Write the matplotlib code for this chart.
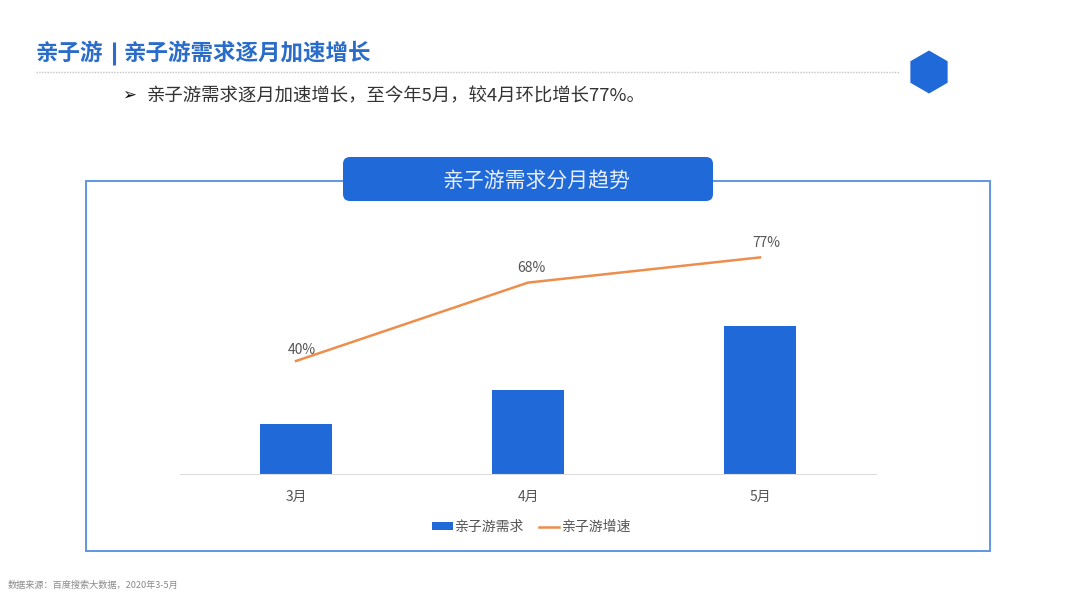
import matplotlib.pyplot as plt
from matplotlib.patches import FancyBboxPatch, Rectangle, RegularPolygon

plt.rcParams['font.family'] = ['Noto Sans CJK SC', 'DejaVu Sans']

months = ['3月', '4月', '5月']
demand = [50, 84, 148]  # no axis in the source, read as relative heights
growth = [40, 68, 77]
growth_labels = ['40%', '68%', '77%']

BLUE = '#2069d8'
ORANGE = '#ed8e4c'
W, H = 1080, 607

fig = plt.figure(figsize=(W / 100, H / 100), dpi=100)

# overlay in pixel coords for the slide decoration
bg = fig.add_axes([0, 0, 1, 1])
bg.set_xlim(0, W)
bg.set_ylim(H, 0)
bg.axis('off')

# title in three pieces, the bar needs to be heavier than the font's own
bg.text(36, 53, '亲子游', fontsize=16.2, fontweight='bold', color='#2a6cc9', va='center', ha='left')
bg.plot([114, 114], [42, 65], color='#2a6cc9', lw=2.2, solid_capstyle='butt')
bg.text(124, 53, '亲子游需求逐月加速增长', fontsize=16.2, fontweight='bold', color='#2a6cc9',
        va='center', ha='left')
bg.plot([36, 899], [72, 72], color='#c4c4c4', lw=1, ls=(0, (1, 1)))
bg.add_patch(RegularPolygon((929, 72), 6, radius=21.5, color=BLUE, lw=0))
bg.text(122, 95.5, '➢', fontsize=12, color='#111111', va='center', ha='left')
bg.text(147, 96.5, '亲子游需求逐月加速增长，至今年5月，较4月环比增长77%。', fontsize=13.25,
        color='#333333', va='center', ha='left')

bg.add_patch(Rectangle((85.5, 181), 904, 370, fill=False, ec='#5f97e3', lw=1.4))
bg.add_patch(FancyBboxPatch((343, 157), 370, 44, boxstyle='round,pad=0,rounding_size=7',
                            fc=BLUE, ec='none', zorder=3))
bg.text(536, 180.5, '亲子游需求分月趋势', fontsize=15, color='#e8effa', va='center',
        ha='center', zorder=4)
bg.text(8, 585.5, '数据来源：百度搜索大数据，2020年3-5月', fontsize=6.6, color='#8a8a8a',
        va='center', ha='left')

# chart
left, right, top, bottom = 180, 876, 220, 474
ax = fig.add_axes([left / W, 1 - bottom / H, (right - left) / W, (bottom - top) / H])
ax.patch.set_alpha(0)
x = range(len(months))
bars = ax.bar(x, demand, width=0.31, color=BLUE, label='亲子游需求')
ax.set_xlim(-0.5, 2.5)
ax.set_ylim(0, 254)
ax.set_xticks(list(x))
ax.set_xticklabels(months, fontsize=10, color='#555555')
ax.tick_params(axis='x', length=0, pad=11.5)
ax.set_yticks([])
for s in ['top', 'left', 'right']:
    ax.spines[s].set_visible(False)
ax.spines['bottom'].set_color('#dddddd')

ax2 = ax.twinx()
ax2.patch.set_alpha(0)
line, = ax2.plot(list(x), growth, color=ORANGE, lw=1.8, label='亲子游增速')
ax2.set_ylim(-0.36, 90.36)
ax2.set_yticks([])
for s in ax2.spines.values():
    s.set_visible(False)
label_dx = [4, 2.5, 4.5]
label_dy = [3, 5.5, 5.5]
for i, val in enumerate(growth):
    ax2.annotate(growth_labels[i], (i, val), xytext=(label_dx[i], label_dy[i]), textcoords='offset points',
                 ha='center', va='bottom', fontsize=10, color='#555555')

fig.legend([bars, line], ['亲子游需求', '亲子游增速'], ncol=2, loc='center',
           bbox_to_anchor=(531 / W, 1 - 527 / H), frameon=False, fontsize=10,
           labelcolor='#555555', handlelength=1.5, handletextpad=0.1, columnspacing=1.1,
           handleheight=0.5)

plt.savefig('out.png', dpi=100)
plt.close()
